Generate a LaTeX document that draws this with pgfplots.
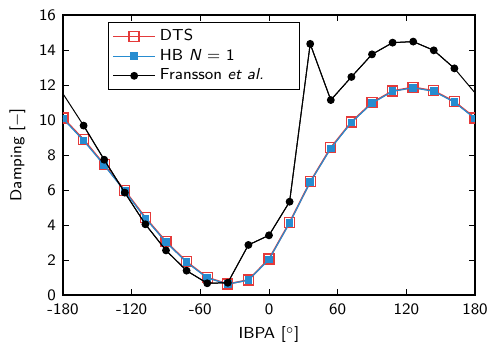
\documentclass[border=0pt]{standalone}
\usepackage{pgfplots}
\pgfplotsset{compat=1.18}
\definecolor{dtsred}{RGB}{228,58,58}
\definecolor{hbblue}{RGB}{38,140,208}
\pgfplotstableread{
x dts hb fr
-180 10.12 10.08 11.50
-162 8.88 8.82 9.68
-144 7.45 7.42 7.73
-126 5.97 5.93 5.85
-108 4.42 4.38 4.04
-90 3.05 3.02 2.55
-72 1.90 1.87 1.39
-54 1.00 0.98 0.67
-36 0.63 0.62 0.70
-18 0.86 0.85 2.86
0 2.06 2.03 3.41
18 4.15 4.12 5.33
36 6.47 6.45 14.35
54 8.42 8.38 11.14
72 9.89 9.86 12.46
90 10.99 10.96 13.75
108 11.66 11.64 14.42
126 11.87 11.84 14.48
144 11.67 11.64 13.98
162 11.05 11.02 12.95
180 10.12 10.08 11.55
}\datatab
\begin{document}
\begin{tikzpicture}[font=\fontsize{8}{9.6}\selectfont\sffamily]
\begin{axis}[
  scale only axis,
  width=206bp, height=140bp,
  xmin=-180, xmax=180, ymin=0, ymax=16,
  xtick={-180,-120,...,180},
  ytick={0,2,...,16},
  /pgf/number format/assume math mode=true,
  tick align=inside,
  tick style={black, line width=0.4pt},
  major tick length=3bp,
  axis line style={line width=0.6pt},
  xlabel={IBPA [$^\circ$]},
  ylabel={Damping [$-$]},
  ticklabel style={font=\fontsize{8}{9.6}\selectfont\sffamily},
  x tick label style={yshift=-1bp},
  xlabel style={yshift=1bp},
  ylabel style={yshift=0bp},
  clip marker paths=true,
  legend style={at={(0.109,0.976)}, anchor=north west, draw=black, line width=0.5pt,
    font=\fontsize{8}{9.6}\selectfont\sffamily, inner xsep=2pt, inner ysep=1.5pt,
    row sep=-1.2pt},
  legend cell align=left,
  legend image code/.code={\draw[mark repeat=2,mark phase=2,#1] plot coordinates {(0bp,0bp)(10.5bp,0bp)(21bp,0bp)};},
]
\addplot[dtsred, line width=0.8pt, mark=square, mark size=2.5bp, mark options={line width=0.7pt}] table[x=x,y=dts] {\datatab};
\addlegendentry{DTS}
\addplot[hbblue, line width=0.6pt, mark=square*, mark size=1.6bp] table[x=x,y=hb] {\datatab};
\addlegendentry{HB \textit{N} = 1}
\addplot[black, line width=0.5pt, no marks, forget plot] table[x=x,y=fr] {\datatab};
\addplot[black, line width=0.5pt, mark=*, mark size=1.7bp, skip coords between index={0}{1}, skip coords between index={20}{21}] table[x=x,y=fr] {\datatab};
\addlegendentry{Fransson \textit{et al.}\hspace*{14bp}}
\end{axis}
\pgfresetboundingbox
\path ([xshift=-31.5bp,yshift=7.5bp]current axis.north west) rectangle ([xshift=6.5bp,yshift=-26bp]current axis.south east);
\end{tikzpicture}
\end{document}
